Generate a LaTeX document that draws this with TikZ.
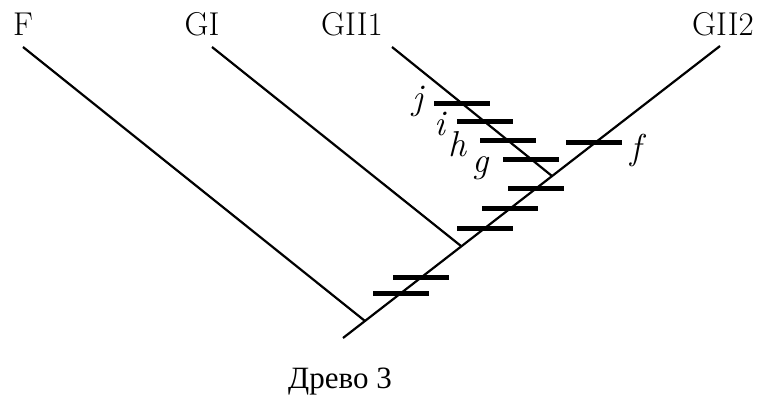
\documentclass[tikz,border=0pt]{standalone}
\usepackage{fontspec}
\newfontfamily\cyrfont{Liberation Serif}

\begin{document}
\begin{tikzpicture}[x=1pt, y=-1pt,
  branch/.style={line width=2.2pt},
  tick/.style={rectangle, fill=black, minimum width=56pt, minimum height=5pt, inner sep=0pt},
  taxon/.style={font=\fontsize{33}{36}\selectfont},
  apo/.style={font=\fontsize{36}{40}\selectfont\itshape, inner sep=0pt}]
 \useasboundingbox (0,0) rectangle (760,401);

 % taxa
 \node[taxon] (F) at (23,24) {F};
 \node[taxon] (GI) at (202,24) {GI};
 \node[taxon] (GIIa) at (352,24) {GII1};
 \node[taxon] (GIIb) at (723,24) {GII2};

 % branch ends and junctions
 \coordinate (root) at (343,338);
 \coordinate (eF) at (23,47);
 \coordinate (eGI) at (212,47);
 \coordinate (eGIIa) at (392,47);
 \coordinate (eGIIb) at (720,46);
 \coordinate (jF) at (365,321);
 \coordinate (jGI) at (461,246);
 \coordinate (jGIIa) at (552,176);

 \draw[branch] (root) -- (eGIIb);
 \draw[branch] (jF) -- (eF);
 \draw[branch] (jGI) -- (eGI);
 \draw[branch] (jGIIa) -- (eGIIa);

 % character changes
 \node[tick] (t1) at (401,293) {};
 \node[tick] (t2) at (421,277) {};
 \node[tick] (t3) at (485,228) {};
 \node[tick] (t4) at (510,208) {};
 \node[tick] (t5) at (536,188) {};
 \node[tick] (tf) at (594,143) {};
 \node[tick] (tg) at (531,159) {};
 \node[tick] (th) at (508,141) {};
 \node[tick] (ti) at (485,122) {};
 \node[tick] (tj) at (462,104) {};

 \node[apo] (lj) at (418,101) {j};
 \node[apo] (li) at (440,124) {i};
 \node[apo] (lh) at (457,144) {h};
 \node[apo] (lg) at (481,168) {g};
 \node[apo] (lf) at (636,151) {f};

 \node[font=\cyrfont\fontsize{31}{34}\selectfont] (cap) at (340,382) {Древо 3};
\end{tikzpicture}
\end{document}
